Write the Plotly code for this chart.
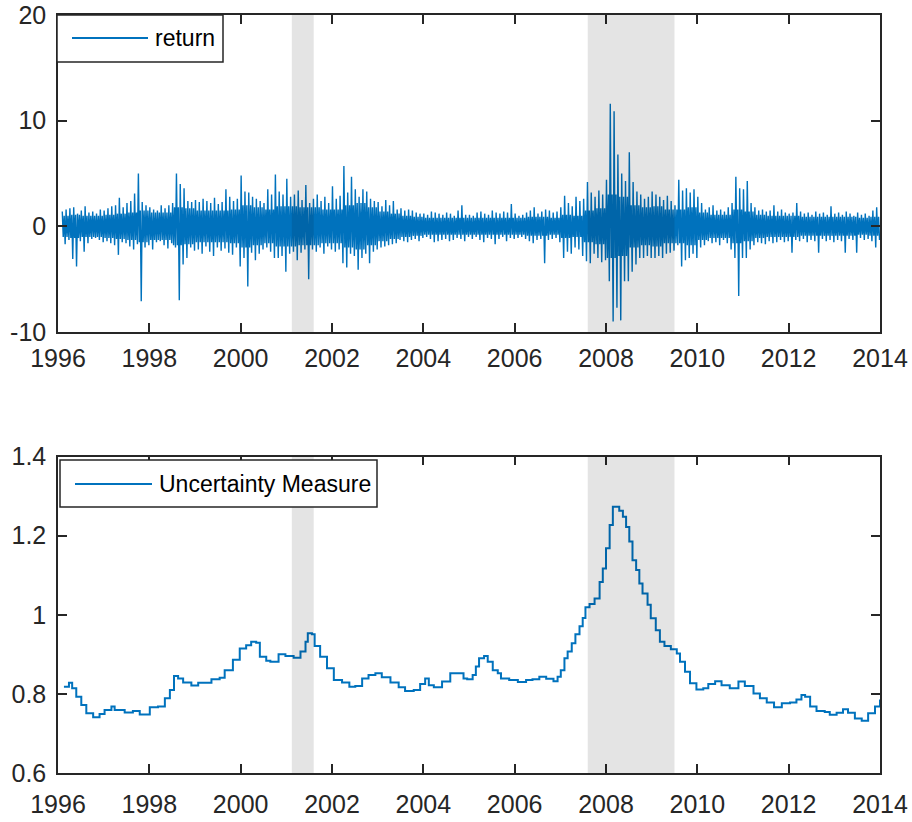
import plotly.graph_objects as go

# ---------------------------------------------------------------- data
# Daily return series summarised month by month (Feb 1996 - Dec 2013):
# the highest and lowest daily return observed in each month.
ret_high = [
    # 1996 (Feb-Dec)
    1.4, 1.6, 1.7, 1.8, 1.2, 1.5, 1.9, 1.3, 1.4, 1.2, 1.6,
    # 1997
    1.5, 1.7, 1.9, 2.0, 2.7, 1.8, 2.2, 2.4, 3.1, 5.0, 2.3, 2.0,
    # 1998
    1.8, 1.6, 1.5, 2.0, 1.7, 2.0, 2.2, 5.0, 4.0, 3.6, 2.4, 2.3,
    # 1999
    2.5, 2.3, 2.6, 2.4, 2.2, 2.7, 2.1, 2.3, 3.5, 2.8, 2.4, 2.6,
    # 2000
    4.8, 3.3, 3.2, 2.8, 2.6, 2.4, 2.2, 3.5, 3.0, 4.9, 3.3, 3.0,
    # 2001
    4.5, 2.8, 3.0, 3.4, 2.5, 3.9, 2.2, 2.6, 3.0, 2.4, 2.8, 2.2,
    # 2002
    3.8, 2.6, 2.9, 5.7, 3.2, 4.7, 3.5, 2.8, 3.5, 3.3, 2.6, 2.4,
    # 2003
    2.3, 1.9, 2.5, 2.0, 2.4, 1.6, 1.7, 1.5, 1.6, 1.5, 1.3, 1.2,
    # 2004
    1.2, 1.1, 1.4, 1.3, 1.2, 1.1, 1.3, 1.2, 1.0, 1.5, 2.0, 1.1,
    # 2005
    1.1, 1.0, 1.3, 1.4, 1.2, 1.1, 1.5, 1.3, 1.2, 1.4, 1.3, 2.1,
    # 2006
    1.2, 1.0, 1.1, 1.3, 1.5, 1.8, 1.2, 1.4, 1.6, 1.5, 1.3, 1.4,
    # 2007
    1.8, 2.9, 2.2, 1.9, 2.8, 2.4, 2.6, 4.2, 3.2, 2.8, 3.4, 3.0,
    # 2008
    4.4, 11.6, 10.9, 6.8, 5.0, 4.3, 7.0, 4.2, 3.3, 3.0, 2.6, 2.8,
    # 2009
    3.3, 3.0, 2.8, 2.5, 2.9, 2.4, 2.0, 4.4, 3.4, 3.6, 3.2, 3.5,
    # 2010
    2.8, 2.2, 1.6, 1.8, 2.0, 1.5, 1.6, 1.4, 1.8, 2.2, 4.7, 3.6,
    # 2011
    3.5, 4.3, 2.2, 1.8, 1.5, 1.6, 1.4, 1.5, 2.0, 1.4, 1.6, 1.3,
    # 2012
    1.2, 1.3, 2.2, 1.4, 1.2, 1.3, 1.1, 1.4, 1.2, 1.3, 1.1, 1.9,
    # 2013
    1.2, 1.3, 1.1, 1.4, 1.2, 1.0, 1.3, 1.1, 1.2, 1.0, 1.5, 1.8,
]
ret_low = [
    # 1996 (Feb-Dec)
    -1.7, -1.3, -3.1, -3.8, -1.4, -2.4, -1.6, -1.2, -1.1, -1.3, -1.5,
    # 1997
    -1.4, -1.6, -1.8, -2.7, -1.5, -1.6, -1.9, -2.2, -1.7, -7.1, -2.0, -1.8,
    # 1998
    -2.2, -1.5, -1.4, -1.8, -2.1, -1.6, -2.0, -7.0, -3.6, -3.0, -2.0, -2.3,
    # 1999
    -2.2, -2.6, -1.9, -2.4, -2.8, -2.0, -2.3, -2.1, -2.5, -2.7, -2.0, -3.8,
    # 2000
    -3.0, -5.7, -2.5, -3.2, -2.6, -2.2, -2.0, -2.4, -3.0, -3.0, -2.8, -4.3,
    # 2001
    -2.6, -2.4, -3.2, -2.5, -2.2, -5.0, -2.2, -2.4, -2.0, -2.6, -1.9, -2.2,
    # 2002
    -2.4, -2.2, -3.5, -3.9, -2.6, -2.8, -4.1, -3.0, -2.6, -3.5, -2.4, -2.2,
    # 2003
    -2.0, -1.9, -1.8, -1.7, -1.6, -1.3, -1.4, -1.5, -1.3, -1.2, -1.4, -1.1,
    # 2004
    -1.0, -1.2, -1.5, -1.4, -1.3, -1.2, -1.4, -1.3, -1.1, -1.2, -1.4, -1.0,
    # 2005
    -1.2, -1.0, -1.3, -1.5, -1.1, -1.2, -1.7, -1.2, -1.0, -1.4, -1.1, -1.2,
    # 2006
    -1.1, -1.0, -1.2, -1.4, -1.6, -1.3, -1.2, -3.5, -1.3, -1.2, -1.1, -1.5,
    # 2007
    -3.0, -2.4, -2.6, -2.0, -2.2, -2.8, -3.3, -3.5, -2.6, -3.0, -3.4, -3.2,
    # 2008
    -5.2, -9.0, -7.7, -8.9, -5.2, -5.2, -4.3, -3.6, -3.0, -3.0, -2.8, -3.0,
    # 2009
    -3.0, -2.8, -3.0, -2.6, -2.5, -2.3, -1.8, -3.8, -3.2, -3.0, -2.6, -3.0,
    # 2010
    -2.0, -1.8, -1.4, -1.6, -1.5, -1.8, -1.3, -1.6, -2.2, -3.0, -6.6, -3.0,
    # 2011
    -3.0, -2.2, -1.8, -1.5, -1.6, -1.7, -1.4, -1.6, -1.5, -1.3, -1.5, -1.4,
    # 2012
    -2.5, -1.3, -1.4, -1.2, -1.5, -1.3, -1.4, -2.5, -1.2, -1.4, -1.3, -1.5,
    # 2013
    -1.3, -1.4, -2.5, -1.2, -1.3, -2.5, -1.1, -1.3, -1.2, -1.4, -2.0, -1.3,
]
# Typical daily swing (half-width of the dense band), one value per quarter,
# 1996 Q1 - 2013 Q4
ret_core = [
    1.0, 1.1, 1.0, 1.0,   # 1996
    1.1, 1.2, 1.3, 1.5,   # 1997
    1.3, 1.3, 1.8, 1.7,   # 1998
    1.5, 1.5, 1.5, 1.6,   # 1999
    2.0, 1.8, 1.6, 1.9,   # 2000
    1.9, 1.8, 1.8, 1.6,   # 2001
    1.6, 2.0, 2.2, 1.8,   # 2002
    1.4, 1.2, 1.0, 0.9,   # 2003
    0.8, 0.8, 0.8, 0.8,   # 2004
    0.8, 0.8, 0.8, 0.8,   # 2005
    0.8, 0.9, 0.9, 0.8,   # 2006
    1.1, 1.0, 1.5, 1.7,   # 2007
    3.0, 2.8, 2.0, 1.8,   # 2008
    1.9, 1.6, 1.6, 1.8,   # 2009
    1.3, 1.1, 1.1, 1.6,   # 2010
    1.4, 1.1, 1.0, 1.0,   # 2011
    1.0, 0.9, 0.9, 0.9,   # 2012
    0.9, 0.9, 0.8, 0.9,   # 2013
]
ret_first_month = 1  # months counted from Jan 1996 (1 = February)

# Uncertainty measure (decimal year, level)
unc_time = [
    1996.13, 1996.24, 1996.31, 1996.40, 1996.51, 1996.62, 1996.77, 1996.91,
    1997.02, 1997.17, 1997.24, 1997.46, 1997.64, 1997.79, 1998.01, 1998.19,
    1998.34, 1998.45, 1998.54, 1998.63, 1998.74, 1998.92, 1999.07, 1999.36,
    1999.54, 1999.65, 1999.83, 1999.98, 2000.12, 2000.23, 2000.34, 2000.42,
    2000.56, 2000.65, 2000.83, 2000.98, 2001.16, 2001.31, 2001.42, 2001.47,
    2001.56, 2001.62, 2001.74, 2001.89, 2002.04, 2002.22, 2002.38, 2002.51,
    2002.66, 2002.80, 2002.95, 2003.09, 2003.28, 2003.46, 2003.60, 2003.79,
    2003.93, 2004.04, 2004.12, 2004.23, 2004.41, 2004.59, 2004.70, 2004.88,
    2004.96, 2005.08, 2005.15, 2005.22, 2005.33, 2005.41, 2005.52, 2005.63,
    2005.70, 2005.88, 2006.07, 2006.25, 2006.39, 2006.54, 2006.69, 2006.85,
    2006.94, 2007.01, 2007.09, 2007.16, 2007.25, 2007.33, 2007.42, 2007.49,
    2007.55, 2007.64, 2007.75, 2007.86, 2007.93, 2008.00, 2008.08, 2008.15,
    2008.22, 2008.29, 2008.37, 2008.44, 2008.51, 2008.58, 2008.66, 2008.73,
    2008.80, 2008.91, 2008.98, 2009.09, 2009.18, 2009.28, 2009.42, 2009.55,
    2009.62, 2009.73, 2009.84, 2009.98, 2010.13, 2010.24, 2010.39, 2010.53,
    2010.71, 2010.90, 2011.04, 2011.23, 2011.37, 2011.52, 2011.68, 2011.85,
    2012.03, 2012.17, 2012.28, 2012.36, 2012.47, 2012.61, 2012.79, 2012.90,
    2013.05, 2013.19, 2013.30, 2013.45, 2013.60, 2013.74, 2013.89, 2014.00,
]
unc_value = [
    0.818, 0.828, 0.814, 0.793, 0.772, 0.751, 0.741, 0.749,
    0.759, 0.768, 0.759, 0.753, 0.757, 0.748, 0.766, 0.768,
    0.789, 0.810, 0.845, 0.839, 0.829, 0.821, 0.828, 0.837,
    0.841, 0.860, 0.886, 0.915, 0.923, 0.932, 0.929, 0.894,
    0.884, 0.881, 0.900, 0.896, 0.891, 0.907, 0.932, 0.953,
    0.951, 0.921, 0.894, 0.865, 0.835, 0.829, 0.818, 0.820,
    0.839, 0.848, 0.852, 0.842, 0.829, 0.817, 0.807, 0.810,
    0.825, 0.839, 0.822, 0.817, 0.831, 0.852, 0.852, 0.839,
    0.837, 0.848, 0.869, 0.890, 0.896, 0.881, 0.860, 0.852,
    0.839, 0.835, 0.830, 0.835, 0.837, 0.843, 0.838, 0.832,
    0.843, 0.860, 0.890, 0.907, 0.928, 0.951, 0.971, 0.992,
    1.019, 1.027, 1.041, 1.083, 1.117, 1.168, 1.227, 1.273,
    1.273, 1.263, 1.248, 1.222, 1.185, 1.138, 1.113, 1.079,
    1.054, 1.025, 0.991, 0.961, 0.932, 0.921, 0.913, 0.902,
    0.881, 0.856, 0.827, 0.811, 0.814, 0.825, 0.832, 0.822,
    0.814, 0.831, 0.820, 0.801, 0.789, 0.778, 0.766, 0.776,
    0.778, 0.786, 0.797, 0.793, 0.768, 0.757, 0.754, 0.747,
    0.752, 0.761, 0.752, 0.738, 0.732, 0.751, 0.768, 0.786,
]

# Shaded recession periods
rec_start = [2001.12, 2007.60]
rec_end = [2001.60, 2009.50]

year_ticks = list(range(1996, 2015, 2))
ret_ticks = [-10, 0, 10, 20]
unc_ticks = [0.6, 0.8, 1.0, 1.2, 1.4]
unc_ticktext = ["0.6", "0.8", "1", "1.2", "1.4"]

# ---------------------------------------------------------------- style
LINE = "#0072BD"
AXC = "#262626"
FONT = "Liberation Sans, Arial, sans-serif"
W, H = 912, 822
PX_L, PX_R = 58, 880
TOP_Y0, TOP_Y1 = 15, 332
BOT_Y0, BOT_Y1 = 456.5, 773

# each month: high, -core, +core, low -> one continuous dense trace
x_ret, y_ret = [], []
for k, (hi, lo) in enumerate(zip(ret_high, ret_low)):
    m = ret_first_month + k
    t = 1996 + m / 12
    c = ret_core[m // 3]
    x_ret += [t + f / 12 for f in (0.125, 0.375, 0.625, 0.875)]
    y_ret += [hi, -c, c, lo]

fig = go.Figure()
fig.add_trace(go.Scatter(x=x_ret, y=y_ret, mode="lines",
                         line=dict(color=LINE, width=1.4),
                         xaxis="x", yaxis="y", showlegend=False))
fig.add_trace(go.Scatter(x=unc_time, y=unc_value, mode="lines",
                         line=dict(color=LINE, width=2, shape="hv"),
                         xaxis="x2", yaxis="y2", showlegend=False))

axis_common = dict(showgrid=False, zeroline=False, showline=True,
                   linecolor=AXC, linewidth=1.5, mirror="ticks",
                   ticks="inside", ticklen=9, tickwidth=1.5, tickcolor=AXC,
                   tickfont=dict(family=FONT, size=25, color=AXC),
                   automargin=False)

xdom = [PX_L / W, PX_R / W]
fig.update_layout(
    width=W, height=H,
    margin=dict(l=0, r=0, t=0, b=0),
    paper_bgcolor="white", plot_bgcolor="white",
    xaxis=dict(domain=xdom, range=[1996, 2014], tickvals=year_ticks,
               anchor="y", ticklabelstandoff=3, **axis_common),
    yaxis=dict(domain=[1 - TOP_Y1 / H, 1 - TOP_Y0 / H], range=[-10, 20],
               tickvals=ret_ticks, ticktext=[str(v) for v in ret_ticks],
               anchor="x", ticklabelstandoff=5, **axis_common),
    xaxis2=dict(domain=xdom, range=[1996, 2014], tickvals=year_ticks,
                anchor="y2", ticklabelstandoff=8, **axis_common),
    yaxis2=dict(domain=[1 - BOT_Y1 / H, 1 - BOT_Y0 / H], range=[0.6, 1.4],
                tickvals=unc_ticks, ticktext=unc_ticktext,
                anchor="x2", ticklabelstandoff=5, **axis_common),
)

shapes = []
annotations = []
for xa, ya in (("x", "y"), ("x2", "y2")):
    for s, e in zip(rec_start, rec_end):
        shapes.append(dict(type="rect", xref=xa, yref=f"{ya} domain",
                           x0=s, x1=e, y0=0, y1=1, layer="above",
                           fillcolor="rgba(0,0,0,0.105)", line=dict(width=0)))


def add_legend(xa, ya, box, line_x, text_x, text, y_mid):
    # box = (x0, x1, y0, y1) in axis-domain fractions
    shapes.append(dict(type="rect", xref=f"{xa} domain", yref=f"{ya} domain",
                       x0=box[0], x1=box[1], y0=box[2], y1=box[3],
                       fillcolor="white", line=dict(color=AXC, width=1.5),
                       layer="above"))
    shapes.append(dict(type="line", xref=f"{xa} domain", yref=f"{ya} domain",
                       x0=line_x[0], x1=line_x[1], y0=y_mid, y1=y_mid,
                       line=dict(color=LINE, width=2), layer="above"))
    annotations.append(dict(xref=f"{xa} domain", yref=f"{ya} domain",
                            x=text_x, y=y_mid, text=text, showarrow=False,
                            xanchor="left", yanchor="middle",
                            font=dict(family=FONT, size=23, color="black")))


pw = PX_R - PX_L
th = TOP_Y1 - TOP_Y0
bh = BOT_Y1 - BOT_Y0
add_legend("x", "y",
           ((57 - PX_L) / pw, (223 - PX_L) / pw, (TOP_Y1 - 62) / th, 1.0),
           ((72 - PX_L) / pw, (148 - PX_L) / pw), (153 - PX_L) / pw,
           "return", (TOP_Y1 - 38) / th)
add_legend("x2", "y2",
           ((60 - PX_L) / pw, (377 - PX_L) / pw, (BOT_Y1 - 507) / bh,
            (BOT_Y1 - 460) / bh),
           ((75 - PX_L) / pw, (152 - PX_L) / pw), (157 - PX_L) / pw,
           "Uncertainty Measure", (BOT_Y1 - 484) / bh)

fig.update_layout(shapes=shapes, annotations=annotations)
fig.write_html("out.html")
